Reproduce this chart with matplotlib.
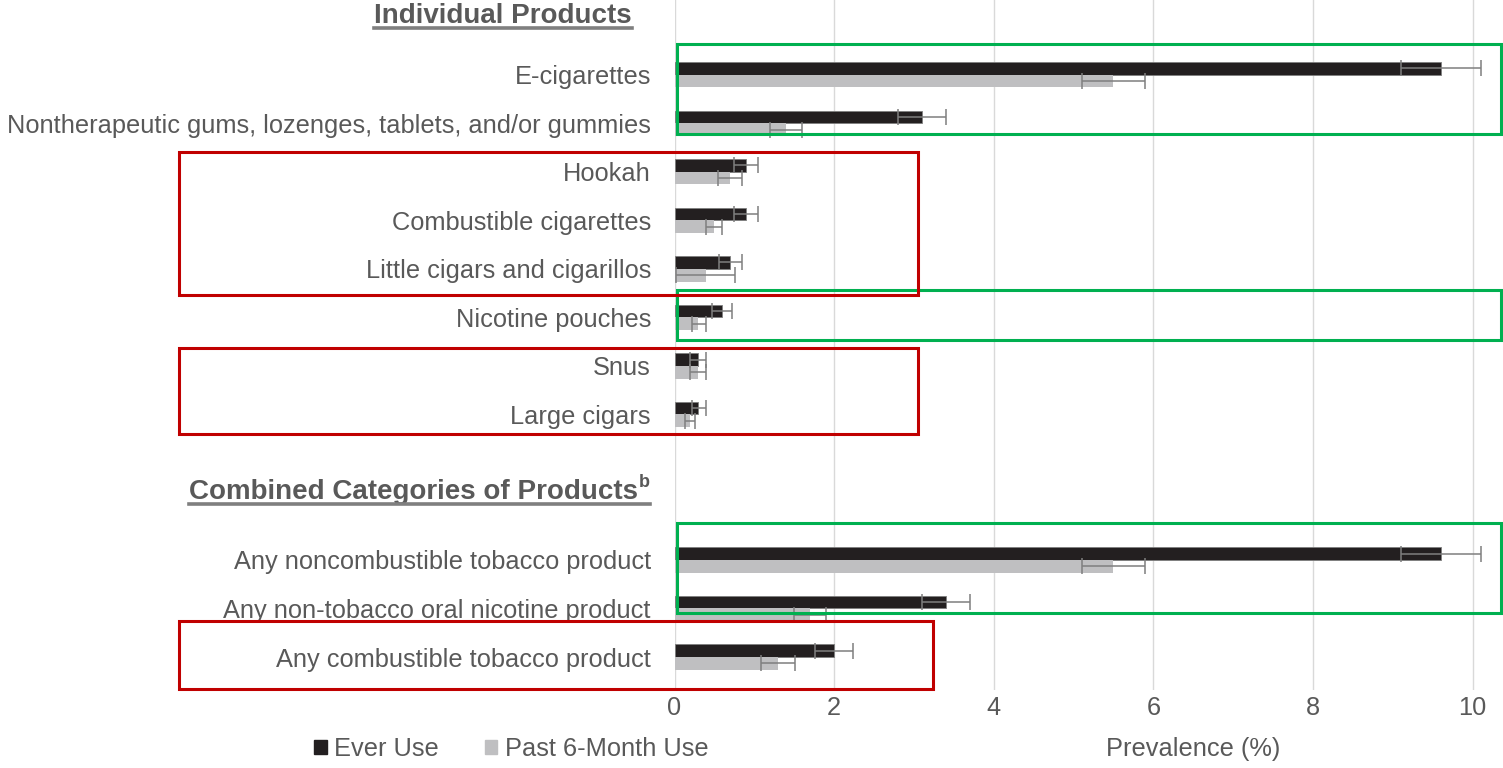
import numpy as np
import matplotlib.pyplot as plt
from matplotlib.patches import Rectangle, Patch
from matplotlib.lines import Line2D

plt.rcParams['font.family'] = ['Liberation Sans', 'DejaVu Sans']

# data
labels = ["E-cigarettes", "Nontherapeutic gums, lozenges, tablets, and/or gummies",
          "Hookah", "Combustible cigarettes", "Little cigars and cigarillos",
          "Nicotine pouches", "Snus", "Large cigars",
          "Any noncombustible tobacco product", "Any non-tobacco oral nicotine product",
          "Any combustible tobacco product"]
rows = [0, 1, 2, 3, 4, 5, 6, 7, 10, 11, 12]

ever = [9.6, 3.1, 0.9, 0.9, 0.7, 0.6, 0.3, 0.3, 9.6, 3.4, 2.0]
ever_lo = [9.1, 2.8, 0.75, 0.75, 0.56, 0.47, 0.2, 0.22, 9.1, 3.1, 1.76]
ever_hi = [10.1, 3.4, 1.05, 1.05, 0.84, 0.72, 0.39, 0.39, 10.1, 3.7, 2.24]

past = [5.5, 1.4, 0.7, 0.5, 0.4, 0.3, 0.3, 0.2, 5.5, 1.7, 1.3]
past_lo = [5.1, 1.2, 0.55, 0.39, 0.02, 0.22, 0.2, 0.13, 5.1, 1.5, 1.08]
past_hi = [5.9, 1.6, 0.84, 0.6, 0.76, 0.39, 0.39, 0.26, 5.9, 1.9, 1.51]

W, H = 1503, 768
fig = plt.figure(figsize=(W / 100, H / 100), dpi=100)
ax = fig.add_axes([674.5 / W, 1 - 690 / H, 1 - 674.5 / W, 690 / H])

txt = '#595959'
fs = 18.3
y = np.array(rows, dtype=float)
h = 0.262
ax.barh(y - h / 2, ever, height=h, color='#231F20', edgecolor='#7F7F7F', linewidth=0.6, zorder=3)
ax.barh(y + h / 2, past, height=h, color='#BFBFC1', edgecolor='none', zorder=3)
ax.errorbar(ever, y - h / 2, xerr=[np.array(ever) - ever_lo, np.array(ever_hi) - ever],
            fmt='none', ecolor='#7F7F7F', elinewidth=1.1, capsize=6, capthick=1.1, zorder=4)
ax.errorbar(past, y + h / 2, xerr=[np.array(past) - past_lo, np.array(past_hi) - past],
            fmt='none', ecolor='#7F7F7F', elinewidth=1.1, capsize=6, capthick=1.1, zorder=4)

ax.set_xlim(0, 10.38)
ax.set_ylim(12.68, -1.54)
ax.set_xticks([0, 2, 4, 6, 8, 10])
ax.set_yticks(rows)
ax.set_yticklabels(labels)
ax.tick_params(axis='both', length=0, labelsize=fs, labelcolor=txt)
ax.tick_params(axis='y', pad=17)
ax.tick_params(axis='x', pad=4)
ax.grid(axis='x', color='#D9D9D9', linewidth=1, zorder=0)
for s in ax.spines.values():
    s.set_visible(False)

# section headings (bold, underlined)
tr = ax.get_yaxis_transform()
h1 = ax.text(-0.0513, -1.2, "Individual Products", transform=tr, ha='right', va='center',
             fontsize=20, fontweight='bold', color=txt)
h2 = ax.text(-0.0295, 8.6, "Combined Categories of Products", transform=tr, ha='right', va='center',
             fontsize=20, fontweight='bold', color=txt)
sup = ax.text(-0.0295, 8.4, "b", transform=tr, ha='right', va='center',
              fontsize=13, fontweight='bold', color=txt)
fig.canvas.draw()
r = fig.canvas.get_renderer()
bb_sup = sup.get_window_extent(r)
h2.set_x(-0.0295 - (bb_sup.width + 1) / ax.get_window_extent(r).width)
fig.canvas.draw()
for t, extra in [(h1, None), (h2, sup)]:
    bb = t.get_window_extent(r)
    x1 = bb.x1 if extra is None else extra.get_window_extent(r).x1
    yy = bb.y0 + 1
    fig.add_artist(Line2D([bb.x0 / W, x1 / W], [yy / H, yy / H], color='#7F7F7F', lw=2.6))

# highlight boxes (pixel coords of the reference)
def box(x0, y0, x1, y1, c):
    fig.add_artist(Rectangle((x0 / W, 1 - y1 / H), (x1 - x0) / W, (y1 - y0) / H,
                             transform=fig.transFigure, fill=False, edgecolor=c, linewidth=2.2))

green, red = '#00B050', '#C00000'
box(677, 44, 1501, 134, green)
box(677, 290, 1501, 340, green)
box(677, 523, 1501, 613, green)
box(179, 152, 918, 295, red)
box(179, 348, 918, 434, red)
box(179, 621, 933, 689, red)

# legend and axis title
handles = [Patch(color='#231F20', label='Ever Use'), Patch(color='#BFBFC1', label='Past 6-Month Use')]
fig.legend(handles=handles, loc='center left', bbox_to_anchor=(291 / W, 1 - 749 / H), ncol=2,
           frameon=False, fontsize=fs, labelcolor=txt, handlelength=0.5, handleheight=0.5,
           handletextpad=0.3, columnspacing=1.8)
fig.text(1193 / W, 1 - 749 / H, "Prevalence (%)", ha='center', va='center', fontsize=fs, color=txt)

fig.savefig('out.png', dpi=100)
